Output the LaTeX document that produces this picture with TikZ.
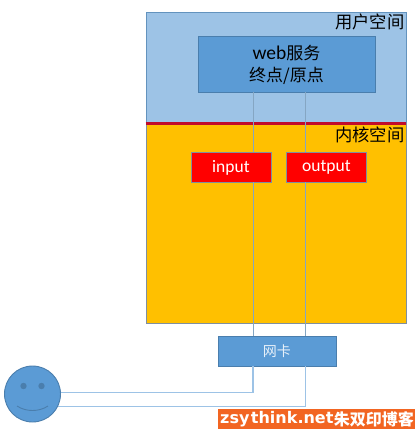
\documentclass[tikz,border=0pt]{standalone}
\usepackage{fontspec}
\setmainfont{Noto Sans CJK SC}
\newfontfamily\latinf{Carlito}
\definecolor{blueA}{HTML}{9DC3E6}
\definecolor{blueB}{HTML}{5B9BD5}
\definecolor{edgeB}{HTML}{4A7EAD}
\definecolor{yellowA}{HTML}{FFC000}
\definecolor{redA}{HTML}{FF0000}
\definecolor{barA}{HTML}{C00C2C}
\definecolor{wmA}{HTML}{F26522}
\definecolor{edgeG}{HTML}{7F8F9F}
\tikzset{
  zone/.style={draw=#1,line width=0.9pt,anchor=north west,inner sep=0pt,minimum width=260pt},
  tag/.style={anchor=north east,inner sep=0pt,font=\fontsize{17.3}{19}\selectfont,text=black},
  redbox/.style={draw=edgeG,line width=0.9pt,fill=redA,text=white,anchor=north west,inner sep=0pt,minimum width=80pt,minimum height=30pt,font=\latinf\fontsize{17.5}{19}\selectfont},
  bluebox/.style={draw=edgeB,line width=0.9pt,fill=blueB,anchor=north west,inner sep=0pt},
  link/.style={draw=blueA,line width=1.1pt},
  inlink/.style={draw=blueA!85!black,line width=0.9pt}
}
\begin{document}
\begin{tikzpicture}[x=1pt,y=-1pt]
\useasboundingbox (0,0) rectangle (415,429);
\fill[white] (0,0) rectangle (415,429);
\node[zone=edgeB!70!blueA,fill=blueA,minimum height=111pt] (user) at (145.5,12) {};
\node[zone=edgeG,fill=yellowA,minimum height=200pt] (kernel) at (145.5,123) {};
\draw[barA,line width=3pt] (user.south west) -- (user.south east);
\node[bluebox,minimum width=177pt,minimum height=56pt,align=center,font=\fontsize{17}{22}\selectfont] (web) at (197.5,36) {{\latinf\fontsize{19.5}{22}\selectfont web}服务\\终点/原点};
\node[redbox] (input) at (190.5,152) {input};
\node[redbox] (output) at (286,152) {output};
\node[bluebox,minimum width=118pt,minimum height=30pt,text=white!85!blueB,font=\fontsize{14}{16}\selectfont] (nic) at (217.5,336) {网卡};
\node[tag] (utag) at (404.5,13.5) {用户空间};
\node[tag] (ktag) at (404.5,127) {内核空间};
% connectors
\coordinate (a1) at (253,92);
\coordinate (b1) at (305.5,92);
\coordinate (a2) at (253,336);
\coordinate (b2) at (305.5,336);
\coordinate (a3) at (253,366);
\coordinate (b3) at (305.5,366);
\coordinate (a4) at (253,392.5);
\coordinate (b4) at (305.5,406.5);
\coordinate (f1) at (60,392.5);
\coordinate (f2) at (58,406.5);
\coordinate (i1) at (253,152);
\coordinate (i2) at (253,182);
\coordinate (o1) at (305.5,152);
\coordinate (o2) at (305.5,182);
\draw[inlink] (a1) -- (i1);
\draw[inlink] (b1) -- (o1);
\draw[inlink] (i2) -- (a2);
\draw[inlink] (o2) -- (b2);
\draw[link] (f1) -- (a4) -- (a3);
\draw[link] (f2) -- (b4) -- (b3);
\node[circle,draw=edgeB,line width=0.9pt,fill=blueB,minimum size=56pt,inner sep=0pt] (face) at (32.5,394) {};
\fill[edgeB] (23.5,386) circle (3.2pt) (41.5,386) circle (3.2pt);
\draw[edgeB,line width=0.9pt] (17,406) .. controls (26,412) and (39,412) .. (48,406);
\node[fill=wmA,anchor=north west,inner sep=0pt,minimum width=197pt,minimum height=20pt] (wm) at (218,409) {};
\node[text=white,anchor=west,inner sep=0pt] (wmt) at (220,419) {\fontspec{DejaVu Sans Bold}\fontsize{16}{18}\selectfont zsy\kern1.5pt think.net};
\node[text=white,anchor=east,inner sep=0pt,font=\fontsize{16}{18}\selectfont\bfseries] (wmc) at (414,419) {朱双印博客};
\end{tikzpicture}
\end{document}
